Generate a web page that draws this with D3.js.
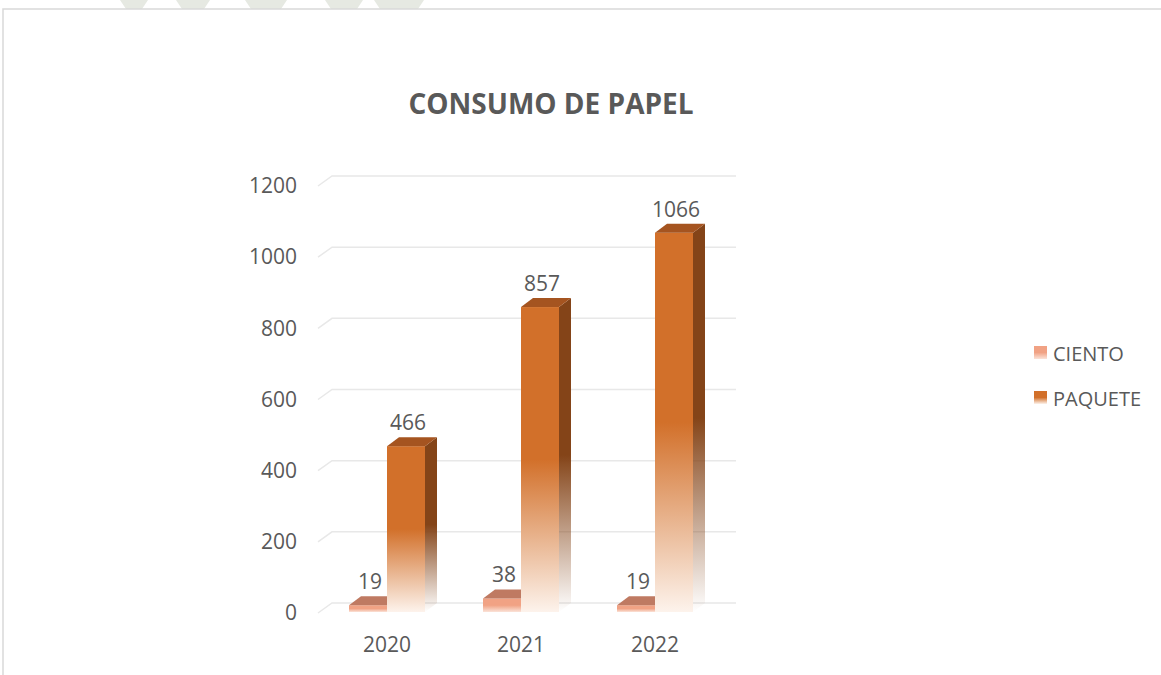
<!DOCTYPE html>
<html>
<head>
<meta charset="utf-8">
<script src="https://cdn.jsdelivr.net/npm/d3@7"></script>
<style>
  body { margin: 0; background: #fff; }
  text { font-family: "Open Sans", sans-serif; fill: #595959; }
</style>
</head>
<body>
<div id="chart"></div>
<script>
// data
const years = ["2020", "2021", "2022"];
const series = ["CIENTO", "PAQUETE"];
const ciento = [19, 38, 19];
const paquete = [466, 857, 1066];
const yTicks = [0, 200, 400, 600, 800, 1000, 1200];
const title = "CONSUMO DE PAPEL";

// colours per series: front, top, side
const colors = {
  CIENTO: { front: "#f1a284", light: "#fbe3d8", top: "#bf7a62", side: "#a9654d" },
  PAQUETE: { front: "#d2702a", light: "#fdf3ec", top: "#a55420", side: "#844418" }
};

const W = 1161, H = 675;
const depth = { dx: 12, dy: -9 };

const svg = d3.select("#chart").append("svg")
  .attr("width", W)
  .attr("height", H);

// faint watermark strip at the very top (behind the chart frame)
const wm = svg.append("g").attr("fill", "#e6e9e2");
[[120, 28], [176, 34], [245, 42], [325, 38], [374, 50]].forEach(([x, w]) => {
  wm.append("path")
    .attr("d", `M${x},0L${x + w},0L${x + w - 6},9L${x + 6},9Z`);
});

// chart frame
svg.append("rect")
  .attr("x", 3).attr("y", 9)
  .attr("width", W + 10).attr("height", H + 10)
  .attr("fill", "#fff")
  .attr("stroke", "#d9d9d9")
  .attr("stroke-width", 1.5);

// gradients
const defs = svg.append("defs");
series.forEach((s) => {
  const c = colors[s];
  const gf = defs.append("linearGradient").attr("id", "front-" + s)
    .attr("x1", 0).attr("y1", 0).attr("x2", 0).attr("y2", 1);
  gf.append("stop").attr("offset", "0").attr("stop-color", c.front);
  gf.append("stop").attr("offset", "0.5").attr("stop-color", c.front);
  gf.append("stop").attr("offset", "1").attr("stop-color", c.light);

  const gs = defs.append("linearGradient").attr("id", "side-" + s)
    .attr("x1", 0).attr("y1", 0).attr("x2", 0).attr("y2", 1);
  gs.append("stop").attr("offset", "0").attr("stop-color", c.side);
  gs.append("stop").attr("offset", "0.5").attr("stop-color", c.side);
  gs.append("stop").attr("offset", "1").attr("stop-color", c.side).attr("stop-opacity", 0);
});

// scales
const y = d3.scaleLinear().domain([0, 1200]).range([612, 185]);
const x0 = d3.scaleBand().domain(years).range([320, 722]);
const barW = 38;
const x1 = d3.scaleBand().domain(series)
  .range([x0.bandwidth() / 2 - barW, x0.bandwidth() / 2 + barW]);

// gridlines (back wall + floor edge)
svg.append("g")
  .selectAll("path")
  .data(yTicks)
  .join("path")
  .attr("d", (t) => `M318,${y(t) + 1}L${318 + 14},${y(t) - 9}H736`)
  .attr("fill", "none")
  .attr("stroke", "#e8e8e8")
  .attr("stroke-width", 1.5);

// y axis
const yAxis = svg.append("g")
  .attr("transform", "translate(297,1)")
  .call(d3.axisLeft(y).tickValues(yTicks).tickFormat(d3.format("d")).tickSize(0).tickPadding(0));
yAxis.select(".domain").remove();
yAxis.selectAll("text")
  .style("font-family", "'Open Sans', sans-serif")
  .style("font-size", "21px")
  .style("fill", "#595959");

// x axis
const xAxis = svg.append("g")
  .attr("transform", "translate(0,637)")
  .call(d3.axisBottom(x0).tickSize(0).tickPadding(0));
xAxis.select(".domain").remove();
xAxis.selectAll("text")
  .style("font-family", "'Open Sans', sans-serif")
  .style("font-size", "21px")
  .style("fill", "#595959");

// bars
const rows = [];
years.forEach((yr, i) => {
  rows.push({ year: yr, s: "CIENTO", v: ciento[i] });
  rows.push({ year: yr, s: "PAQUETE", v: paquete[i] });
});

const bar = svg.append("g").selectAll("g")
  .data(rows)
  .join("g")
  .attr("transform", (d) => `translate(${x0(d.year) + x1(d.s)},0)`);

// side face
bar.append("path")
  .attr("d", (d) => {
    const t = y(d.v), b = y(0);
    return `M${barW},${t}L${barW + depth.dx},${t + depth.dy}L${barW + depth.dx},${b + depth.dy}L${barW},${b}Z`;
  })
  .attr("fill", (d) => `url(#side-${d.s})`);

// front face
bar.append("rect")
  .attr("x", 0)
  .attr("y", (d) => y(d.v))
  .attr("width", barW)
  .attr("height", (d) => y(0) - y(d.v))
  .attr("fill", (d) => `url(#front-${d.s})`);

// top face
bar.append("path")
  .attr("d", (d) => {
    const t = y(d.v);
    return `M0,${t}L${depth.dx},${t + depth.dy}L${barW + depth.dx},${t + depth.dy}L${barW},${t}Z`;
  })
  .attr("fill", (d) => colors[d.s].top);

// value labels
bar.append("text")
  .attr("x", barW / 2 + 2)
  .attr("y", (d) => y(d.v) - 24)
  .attr("text-anchor", "middle")
  .attr("dominant-baseline", "central")
  .style("font-size", "21px")
  .text((d) => d.v);

// title
svg.append("text")
  .attr("x", 551)
  .attr("y", 103)
  .attr("text-anchor", "middle")
  .attr("dominant-baseline", "central")
  .style("font-size", "28px")
  .style("font-weight", "bold")
  .text(title);

// legend
const legend = svg.append("g").selectAll("g")
  .data(series)
  .join("g")
  .attr("transform", (d, i) => `translate(1034,${353 + i * 45})`);

legend.append("rect")
  .attr("x", 0).attr("y", -7)
  .attr("width", 13).attr("height", 13)
  .attr("fill", (d) => `url(#front-${d})`);

legend.append("text")
  .attr("x", 19)
  .attr("y", 0)
  .attr("dominant-baseline", "central")
  .style("font-size", "20px")
  .text((d) => d);
</script>
</body>
</html>
